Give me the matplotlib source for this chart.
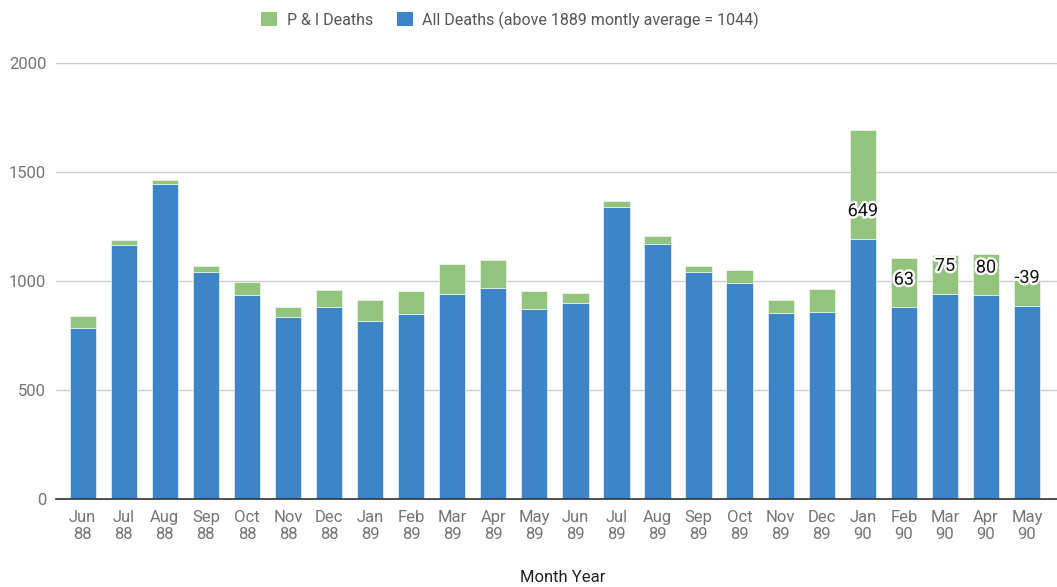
import matplotlib
matplotlib.use("Agg")
import matplotlib.pyplot as plt
import matplotlib.patheffects as pe
from matplotlib.patches import Patch
import numpy as np

months = ["Jun\n88", "Jul\n88", "Aug\n88", "Sep\n88", "Oct\n88", "Nov\n88", "Dec\n88",
          "Jan\n89", "Feb\n89", "Mar\n89", "Apr\n89", "May\n89", "Jun\n89", "Jul\n89",
          "Aug\n89", "Sep\n89", "Oct\n89", "Nov\n89", "Dec\n89", "Jan\n90", "Feb\n90",
          "Mar\n90", "Apr\n90", "May\n90"]
all_deaths = [786, 1165, 1445, 1043, 934, 833, 881, 818, 847, 942, 969, 873, 900, 1341,
              1171, 1043, 989, 853, 859, 1193, 879, 942, 934, 887]
pi_deaths = [53, 22, 20, 26, 61, 46, 79, 95, 107, 135, 129, 81, 46, 27,
             35, 26, 60, 60, 103, 500, 228, 177, 190, 118]
labels = [None] * 19 + ["649", "63", "75", "80", "-39"]
yticks = [0, 500, 1000, 1500, 2000]

plt.rcParams['font.family'] = ['Roboto', 'DejaVu Sans']

BLUE = "#3d85c6"
GREEN = "#93c47d"

fig = plt.figure(figsize=(10.57, 5.87), dpi=100)
ax = fig.add_axes([56 / 1057, 88 / 587, 1 - 56 / 1057, 436 / 587])

x = np.arange(len(months))
w = 0.64
ax.bar(x, all_deaths, width=w, color=BLUE, edgecolor="white", linewidth=0.4, zorder=3)
ax.bar(x, pi_deaths, width=w, bottom=all_deaths, color=GREEN, edgecolor="white",
       linewidth=0.4, zorder=3)

for xi, b, lab in zip(x, all_deaths, labels):
    if lab is None:
        continue
    ax.annotate(lab, (xi, b), xytext=(0, 20), textcoords="offset points",
                ha="center", va="center", fontsize=13, color="#111111", zorder=5,
                path_effects=[pe.withStroke(linewidth=3.5, foreground="white")])

ax.set_xlim(-0.65, 23.73)
ax.set_ylim(0, 2000)
ax.set_yticks(yticks)
ax.set_yticklabels([str(t) for t in yticks])
ax.set_xticks(x)
ax.set_xticklabels(months, linespacing=1.15)
ax.tick_params(axis="both", length=0, labelsize=12, labelcolor="#757575")
ax.tick_params(axis="y", pad=7)
ax.tick_params(axis="x", pad=8)
ax.grid(axis="y", color="#cccccc", linewidth=1, zorder=0)
for s in ["top", "right", "left"]:
    ax.spines[s].set_visible(False)
ax.spines["bottom"].set_color("#333333")
ax.spines["bottom"].set_linewidth(1.2)
ax.spines["bottom"].set_zorder(4)

fig.text(563 / 1057, 1 - 578 / 587, "Month Year", ha="center", va="center",
         fontsize=12, color="#222222")

handles = [Patch(facecolor=GREEN, edgecolor="none", label="P & I Deaths"),
           Patch(facecolor=BLUE, edgecolor="none",
                 label="All Deaths (above 1889 montly average = 1044)")]
fig.legend(handles=handles, loc="center", bbox_to_anchor=(510 / 1057, 1 - 20 / 587),
           ncol=2, frameon=False, fontsize=11.5, labelcolor="#555555",
           handlelength=1.0, handleheight=1.0, handletextpad=0.6, columnspacing=1.5)

fig.savefig("out.png", dpi=100)
